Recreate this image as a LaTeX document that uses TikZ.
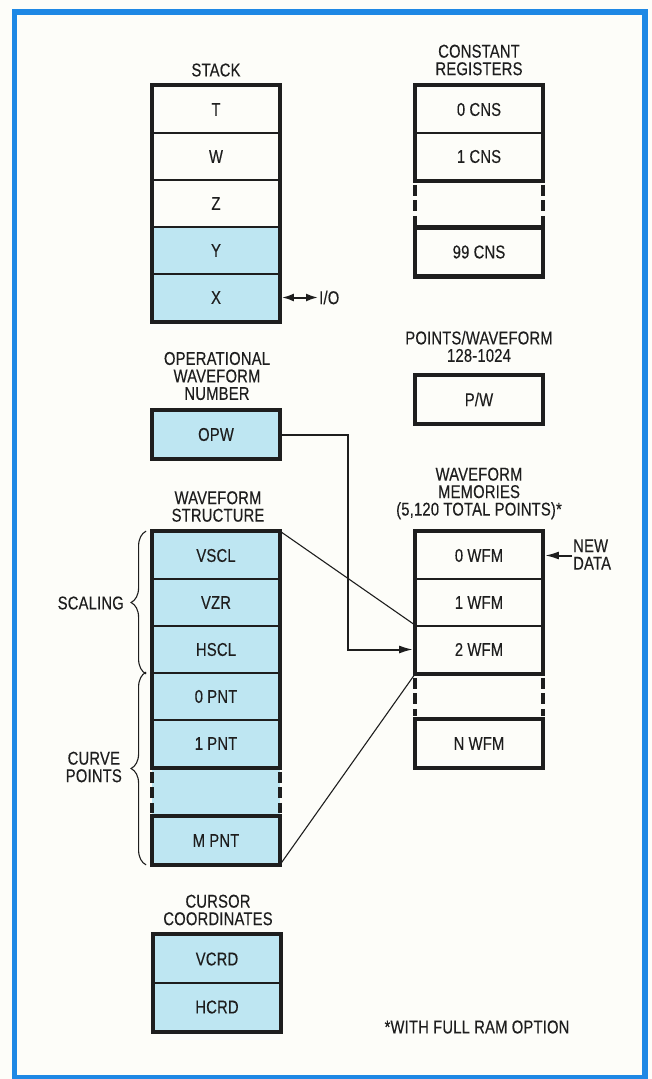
\documentclass[tikz,border=0pt]{standalone}
\usepackage{fontspec}
\setmainfont{Liberation Sans}[FakeStretch=0.8, FakeBold=0.3, LetterSpace=1]
\usetikzlibrary{arrows.meta,decorations.pathreplacing}
\definecolor{framecol}{RGB}{30,136,229}
\definecolor{cyanfill}{RGB}{190,230,242}
\definecolor{ink}{RGB}{30,30,30}
\definecolor{paper}{RGB}{253,253,249}
\newcommand{\lblfont}{\fontsize{18.5}{17.5}\selectfont}
\tikzset{
  cell/.style={draw=ink, line width=1.8pt, minimum width=126pt, minimum height=47pt,
    inner sep=0pt, font=\lblfont, text=ink},
  shaded/.style={fill=cyanfill},
  outer/.style={draw=ink, line width=4.5pt},
  dashside/.style={draw=ink, line width=4pt, dash pattern=on 11pt off 4.5pt},
  caption/.style={font=\lblfont, text=ink, align=center, inner sep=1pt},
  conn/.style={draw=ink, line width=2pt},
  thinline/.style={draw=ink, line width=1.1pt},
  bracestyle/.style={draw=ink, line width=1.1pt, decorate,
    decoration={brace, amplitude=15pt}},
  tip/.style={-{Latex[length=14pt,width=8pt]}},
}
\begin{document}
\begin{tikzpicture}[x=1pt,y=-1pt]
\useasboundingbox (0,0) rectangle (652,1079);
\fill[paper] (0,0) rectangle (652,1079);
\draw[framecol, line width=5.5pt] (14.5,12) rectangle (645,1078);

% ---- Stack
\node[caption] (stackcap) at (216,70) {STACK};
\node[cell] (T) at (216,109.5) {T};
\node[cell] (W) at (216,156.5) {W};
\node[cell] (Z) at (216,203.5) {Z};
\node[cell,shaded] (Y) at (216,250.5) {Y};
\node[cell,shaded] (X) at (216,297.5) {X};
\draw[outer] (T.north west) rectangle (X.south east);
\node[caption, anchor=west] (io) at (318,297.5) {I/O};
\draw[conn, {Latex[length=12pt,width=8pt]}-{Latex[length=12pt,width=8pt]}, shorten <=2pt] (X.east) -- (io.west);

% ---- Constant registers
\node[caption] (constcap) at (479,60) {CONSTANT\\REGISTERS};
\node[cell] (C0) at (479,109.5) {0 CNS};
\node[cell] (C1) at (479,156.5) {1 CNS};
\node[cell] (C99) at (479,252) {99 CNS};
\draw[outer] (C0.north west) rectangle (C1.south east);
\draw[outer] (C99.north west) rectangle (C99.south east);
\draw[dashside] ([yshift=-4pt]C1.south west) -- ([yshift=3pt]C99.north west);
\draw[dashside] ([yshift=-4pt]C1.south east) -- ([yshift=3pt]C99.north east);

% ---- Points / waveform
\node[caption] (pwcap) at (479,346.5) {POINTS/WAVEFORM\\128-1024};
\node[cell] (PW) at (479,399.5) {P/W};
\draw[outer] (PW.north west) rectangle (PW.south east);

% ---- Operational waveform number
\node[caption] (opwcap) at (217,376) {OPERATIONAL\\WAVEFORM\\NUMBER};
\node[cell,shaded] (OPW) at (216,434.5) {OPW};
\draw[outer] (OPW.north west) rectangle (OPW.south east);

% ---- Waveform structure
\node[caption] (wscap) at (218,506.5) {WAVEFORM\\STRUCTURE};
\node[cell,shaded] (VSCL) at (216,555.5) {VSCL};
\node[cell,shaded] (VZR) at (216,602.5) {VZR};
\node[cell,shaded] (HSCL) at (216,649.5) {HSCL};
\node[cell,shaded] (P0) at (216,696.5) {0 PNT};
\node[cell,shaded] (P1) at (216,743.5) {1 PNT};
\node[cell,shaded] (PM) at (216,840.5) {M PNT};
\fill[cyanfill] (P1.south west) rectangle (PM.north east);
\draw[outer] (VSCL.north west) rectangle (P1.south east);
\draw[outer] (PM.north west) rectangle (PM.south east);
\draw[dashside] ([yshift=-4pt]P1.south west) -- ([yshift=3pt]PM.north west);
\draw[dashside] ([yshift=-4pt]P1.south east) -- ([yshift=3pt]PM.north east);

% braces
\draw[bracestyle] ([xshift=-6pt]HSCL.south west) -- ([xshift=-6pt]VSCL.north west);
\draw[bracestyle] ([xshift=-6pt]PM.south west) -- ([xshift=-6pt]P0.north west);
\node[caption, anchor=east] (scal) at (125,603) {SCALING};
\node[caption, anchor=east] (curve) at (123,767) {CURVE\\POINTS};

% ---- Waveform memories
\node[caption] (wmcap) at (479,493.5) {WAVEFORM\\MEMORIES\\(5,120 TOTAL POINTS)*};
\node[cell] (W0) at (479,555.5) {0 WFM};
\node[cell] (W1) at (479,602.5) {1 WFM};
\node[cell] (W2) at (479,649.5) {2 WFM};
\node[cell] (WN) at (479,743.5) {N WFM};
\draw[outer] (W0.north west) rectangle (W2.south east);
\draw[outer] (WN.north west) rectangle (WN.south east);
\draw[dashside] ([yshift=-4pt]W2.south west) -- ([yshift=3pt]WN.north west);
\draw[dashside] ([yshift=-4pt]W2.south east) -- ([yshift=3pt]WN.north east);

\node[caption, anchor=west, align=left] (newdata) at (572,554.5) {NEW\\DATA};
\draw[conn, tip, shorten >=2pt] (newdata.west |- W0.east) -- (W0.east);

% ---- connectors
\draw[thinline] (VSCL.north east) -- (W2.north west);
\draw[thinline] (PM.south east) -- (W2.south west);
\coordinate (bend) at (348,434.5);
\draw[conn, tip, shorten >=2pt] (OPW.east) -- (bend) |- (W2.west);

% ---- Cursor coordinates
\node[caption] (curcap) at (218,910) {CURSOR\\COORDINATES};
\node[cell,shaded, minimum height=48pt] (VCRD) at (217,959) {VCRD};
\node[cell,shaded, minimum height=48pt] (HCRD) at (217,1007) {HCRD};
\draw[outer] (VCRD.north west) rectangle (HCRD.south east);

\node[caption] (note) at (477,1027) {*WITH FULL RAM OPTION};
\end{tikzpicture}
\end{document}
